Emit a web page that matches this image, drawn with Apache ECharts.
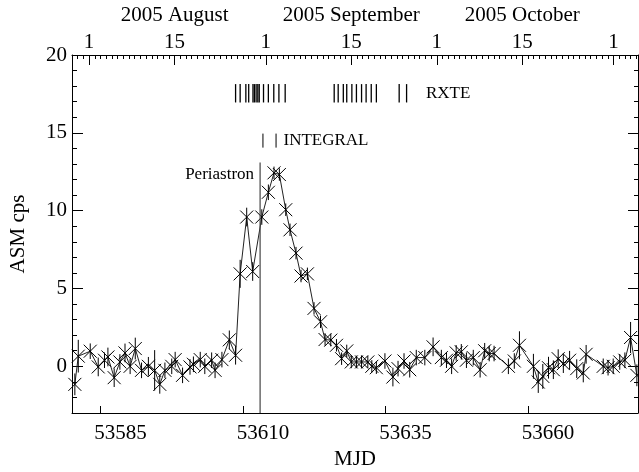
<!DOCTYPE html>
<html lang="en">
  <head>
    <meta charset="UTF-8" />
    <title>ASM light curve</title>
    <script src="https://cdn.jsdelivr.net/npm/echarts@6.0.0/dist/echarts.min.js"></script>
    <style>
      html, body { margin: 0; padding: 0; background: #fff; }
      #main { width: 639px; height: 472px; }
    </style>
  </head>
  <body>
    <div id="main"></div>
    <script>
      // ASM daily points: MJD, rate (cps), 1-sigma error
      var mjd = [
        53580.5, 53581.1, 53583.2, 53584.6, 53585.7, 53586.3, 53587.4, 53588.4, 53589.3, 53590.2,
        53591.1, 53592.2, 53593.4, 53594.5, 53595.4, 53596.3, 53597.5, 53598.1, 53599.4, 53600.7,
        53601.3, 53602.5, 53603.3, 53604.5, 53605.1, 53606.3, 53607.6, 53608.7, 53609.5, 53610.65,
        53611.7, 53613.3, 53614.45, 53615.44, 53616.38, 53617.5, 53618.25, 53619.3, 53620.18, 53621.3,
        53622.46, 53623.6, 53624.4, 53625.4, 53626.4, 53627.3, 53628.2, 53629.0, 53629.9, 53630.8,
        53631.9, 53632.6, 53633.4, 53634.9, 53636.3, 53637.2, 53638.25, 53639.25, 53640.4, 53641.9,
        53643.35, 53644.8, 53645.7, 53646.6, 53647.4, 53648.3, 53649.2, 53650.4, 53651.6, 53652.4,
        53653.2, 53654.05, 53656.56, 53657.6, 53658.5, 53660.95, 53661.8, 53662.6, 53663.6, 53664.45,
        53665.3, 53666.2, 53667.3, 53668.55, 53669.7, 53670.2, 53673.2, 53674.05, 53674.95, 53676.1,
        53677.0, 53678.0, 53679.1
      ];
      var rate = [
        -1.16, 0.65, 0.97, -0.04, 0.39, 0.6, -0.73, 0.28, 0.86, 0.0,
        1.14, -0.26, 0.0, -0.26, -1.16, -0.26, 0.0, 0.43, -0.58, -0.04,
        0.13, 0.43, 0.0, 0.39, -0.26, 0.43, 1.7, 0.71, 5.94, 9.59,
        6.09, 9.59, 11.18, 12.43, 12.32, 10.06, 8.77, 7.27, 5.8, 5.94,
        3.72, 2.86, 1.72, 1.68, 1.35, 0.49, 0.99, 0.28, 0.28, 0.28,
        0.28, 0.0, -0.09, 0.34, -0.69, -0.15, 0.34, -0.22, 0.56, 0.56,
        1.25, 0.56, 0.39, 0.0, 0.86, 0.93, 0.39, 0.56, -0.22, 1.0,
        0.82, 0.82, 0.0, 0.34, 1.35, 0.0, -1.01, -0.65, -0.09, -0.22,
        0.49, 0.17, 0.39, -0.15, -0.43, 0.77, 0.0, -0.09, 0.0, 0.28,
        0.39, 1.85, -0.58
      ];
      var err = [
        0.7, 1.05, 0.5, 0.6, 0.5, 0.6, 0.6, 0.5, 0.6, 0.5,
        0.7, 0.5, 0.6, 1.3, 0.6, 0.5, 0.5, 0.5, 0.5, 0.5,
        0.5, 0.5, 0.5, 0.5, 0.5, 0.5, 0.6, 0.6, 0.9, 0.6,
        0.6, 0.5, 0.5, 0.4, 0.4, 0.4, 0.4, 0.4, 0.4, 0.4,
        0.4, 0.4, 0.4, 0.4, 0.4, 0.4, 0.4, 0.4, 0.4, 0.4,
        0.4, 0.4, 0.4, 0.5, 0.6, 0.5, 0.5, 0.5, 0.5, 0.5,
        0.6, 0.5, 0.5, 0.5, 0.5, 0.5, 0.5, 0.5, 0.5, 0.5,
        0.5, 0.5, 0.5, 0.5, 0.9, 0.8, 0.7, 0.8, 0.7, 0.6,
        0.6, 0.6, 0.6, 0.6, 0.6, 0.6, 0.5, 0.5, 0.5, 0.5,
        0.5, 1.0, 0.7
      ];

      // pointed observations
      var rxteDays = [
        53608.7, 53609.5, 53610.5, 53611.0, 53611.75, 53612.0, 53612.3, 53612.6, 53612.85,
        53613.6, 53614.45, 53615.4, 53616.3, 53617.4,
        53626.0, 53626.7, 53627.6, 53628.2, 53629.1, 53629.9, 53630.8, 53631.6, 53632.5, 53633.4,
        53637.4, 53638.7
      ];
      var integralDays = [53613.5, 53615.8];
      var periastronMjd = 53613;

      // axes
      var mjdTicks = [53585, 53610, 53635, 53660];
      var dateTicks = [53583, 53598, 53614, 53629, 53644, 53659, 53675];
      var dateLabels = ["1", "15", "1", "15", "1", "15", "1"];
      var monthTicks = [53598, 53629, 53659];
      var monthLabels = ["2005 August", "2005 September", "2005 October"];
      var rateTicks = [0, 5, 10, 15, 20];

      var xMin = 53580, xMax = 53679.3, yMin = -3, yMax = 20;
      var serif = "Liberation Serif";
      var ink = "#000";

      var points = mjd.map(function (d, i) { return [d, rate[i], err[i]]; });

      function tick(len, values) {
        var t = { show: true, inside: true, length: len, lineStyle: { color: ink, width: 1 } };
        if (values) t.customValues = values;
        return t;
      }
      function label(values, margin, fmt, extra) {
        var l = { show: true, customValues: values, margin: margin, fontFamily: serif, fontSize: 21, color: ink, formatter: fmt };
        return Object.assign(l, extra || {});
      }
      function axisBase(lo, hi, extra) {
        var a = {
          type: "value", min: lo, max: hi,
          splitLine: { show: false },
          axisLine: { show: true, onZero: false, lineStyle: { color: ink, width: 1 } },
          axisTick: { show: false },
          axisLabel: { show: false },
        };
        return Object.assign(a, extra);
      }
      var noLine = { show: false, onZero: false };

      var myChart = echarts.init(document.getElementById("main"));
      var option = {
        animation: false,
        backgroundColor: "#fff",
        textStyle: { fontFamily: serif, color: ink },
        grid: { left: 72, top: 55, width: 566, height: 358, outerBoundsMode: "none" },
        xAxis: [
          axisBase(xMin, xMax, {
            position: "bottom",
            name: "MJD", nameLocation: "middle", nameGap: 36,
            nameTextStyle: { fontFamily: serif, fontSize: 21, color: ink },
            axisTick: tick(7, mjdTicks),
            axisLabel: label(mjdTicks, 10, function (v) { return String(v); }, { padding: [0, 0, 0, 40] }),
          }),
          axisBase(xMin, xMax, {
            position: "top",
            axisTick: tick(10, dateTicks),
            axisLabel: label(dateTicks, 2, function (v) { return dateLabels[dateTicks.indexOf(v)]; }),
          }),
          axisBase(xMin, xMax, {
            position: "top", interval: 1,
            axisLine: noLine,
            axisTick: tick(4),
          }),
          axisBase(xMin, xMax, {
            position: "top",
            axisLine: noLine,
            axisLabel: label(monthTicks, 29, function (v) { return monthLabels[monthTicks.indexOf(v)]; }),
          }),
        ],
        yAxis: [
          axisBase(yMin, yMax, {
            position: "left",
            name: "ASM cps", nameLocation: "middle", nameGap: 43, nameRotate: 90,
            nameTextStyle: { fontFamily: serif, fontSize: 21, color: ink },
            axisTick: tick(11, rateTicks),
            axisLabel: label(rateTicks, 5, function (v) { return String(v); }),
          }),
          axisBase(yMin, yMax, {
            position: "left", interval: 1,
            axisLine: noLine,
            axisTick: tick(5),
          }),
          axisBase(yMin, yMax, {
            position: "right",
            axisTick: tick(10, rateTicks),
          }),
          axisBase(yMin, yMax, {
            position: "right", interval: 1,
            axisLine: noLine,
            axisTick: tick(4),
          }),
        ],
        series: [
          {
            // connecting line
            type: "line",
            data: points.map(function (p) { return [p[0], p[1]]; }),
            symbol: "none",
            lineStyle: { color: "#222", width: 1 },
            z: 2,
          },
          {
            // crosses with error bars
            type: "custom",
            data: points,
            z: 3,
            renderItem: function (params, api) {
              var c = api.coord([api.value(0), api.value(1)]);
              var lo = api.coord([api.value(0), api.value(1) - api.value(2)]);
              var hi = api.coord([api.value(0), api.value(1) + api.value(2)]);
              var s = 6.5;
              var st = { stroke: ink, lineWidth: 1 };
              return {
                type: "group",
                children: [
                  { type: "line", shape: { x1: c[0], y1: lo[1], x2: c[0], y2: hi[1] }, style: st },
                  { type: "line", shape: { x1: c[0] - s, y1: c[1] - s, x2: c[0] + s, y2: c[1] + s }, style: st },
                  { type: "line", shape: { x1: c[0] - s, y1: c[1] + s, x2: c[0] + s, y2: c[1] - s }, style: st },
                ],
              };
            },
          },
          {
            // observation markers, periastron and labels
            type: "custom",
            data: [0],
            z: 4,
            renderItem: function (params, api) {
              var kids = [];
              var st = { stroke: ink, lineWidth: 1.3 };
              rxteDays.forEach(function (d) {
                var a = api.coord([d, 16.95]), b = api.coord([d, 18.13]);
                kids.push({ type: "line", shape: { x1: a[0], y1: a[1], x2: b[0], y2: b[1] }, style: st });
              });
              integralDays.forEach(function (d) {
                var a = api.coord([d, 14.05]), b = api.coord([d, 14.95]);
                kids.push({ type: "line", shape: { x1: a[0], y1: a[1], x2: b[0], y2: b[1] }, style: { stroke: ink, lineWidth: 1 } });
              });
              var p0 = api.coord([periastronMjd, yMin]), p1 = api.coord([periastronMjd, 13.1]);
              kids.push({ type: "line", shape: { x1: p0[0], y1: p0[1], x2: p1[0], y2: p1[1] }, style: { stroke: "#444", lineWidth: 1.2 } });

              var font = '17px "Liberation Serif"';
              var t1 = api.coord([53642.1, 17.5]);
              kids.push({ type: "text", style: { text: "RXTE", x: t1[0], y: t1[1], font: font, fill: ink, textAlign: "left", textVerticalAlign: "middle", align: "left", verticalAlign: "middle" } });
              var t2 = api.coord([53617.1, 14.5]);
              kids.push({ type: "text", style: { text: "INTEGRAL", x: t2[0], y: t2[1], font: font, fill: ink, textAlign: "left", textVerticalAlign: "middle", align: "left", verticalAlign: "middle" } });
              var t3 = api.coord([periastronMjd, 12.3]);
              kids.push({ type: "text", style: { text: "Periastron", x: t3[0] - 6, y: t3[1], font: font, fill: ink, textAlign: "right", textVerticalAlign: "middle", align: "right", verticalAlign: "middle" } });
              return { type: "group", children: kids };
            },
          },
        ],
      };
      myChart.setOption(option);
    </script>
  </body>
</html>
